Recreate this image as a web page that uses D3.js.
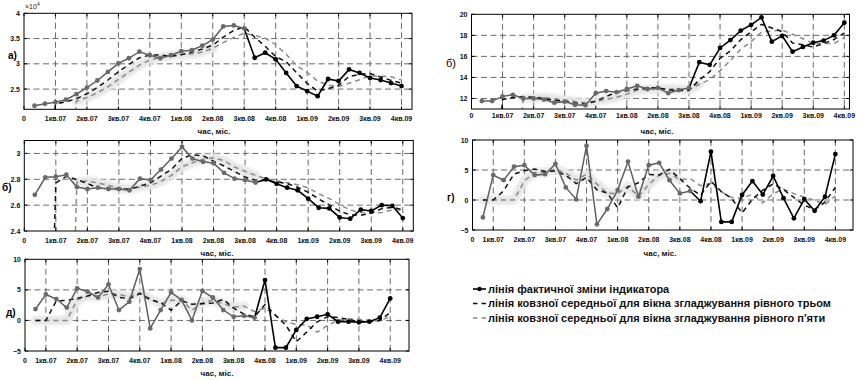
<!DOCTYPE html>
<html>
<head>
<meta charset="utf-8">
<script src="https://cdn.jsdelivr.net/npm/d3@7"></script>
<style>
  body { margin: 0; background: #fff; }
  svg { display: block; font-family: "Liberation Sans", Arial, sans-serif; }
</style>
</head>
<body>
<svg id="chart" width="857" height="380"></svg>
<script>
// Quarter tick labels shared by every panel
const quarterLabels = ['0', '1кв.07', '2кв.07', '3кв.07', '4кв.07', '1кв.08', '2кв.08',
  '3кв.08', '4кв.08', '1кв.09', '2кв.09', '3кв.09', '4кв.09'];
const ticksFromZero = [0, 3, 6, 9, 12, 15, 18, 21, 24, 27, 30, 33, 36];
const ticksFromOne = [1, 3, 6, 9, 12, 15, 18, 21, 24, 27, 30, 33, 36];

// а) level series, months 1..36
const aActual = [21700, 22100, 22400, 22900, 24000, 25300, 26700, 28400, 30100, 31100, 32400, 31700,
  31100, 31700, 32500, 32700, 33600, 34800, 37400, 37600, 37000, 31200, 32200, 30900,
  28200, 25600, 24600, 23600, 27000, 26600, 28900, 28200, 27200, 26800, 26200, 25600];
const aMa3 = [0, 0, 22070, 22470, 23100, 24070, 25330, 26800, 28400, 29870, 31200, 31730,
  31730, 31500, 31770, 32300, 32930, 33700, 35270, 36600, 37330, 35270, 33470, 31430,
  30430, 28230, 26130, 24600, 25070, 25730, 27500, 27900, 28100, 27400, 26730, 26200];
const aMa5 = [0, 0, 0, 0, 22620, 23340, 24260, 25460, 26900, 28320, 29740, 30740,
  31280, 31600, 31880, 31940, 32320, 33060, 34200, 35220, 36080, 35600, 35080, 33780,
  31900, 29620, 28300, 26580, 25800, 25480, 26140, 26860, 27580, 27540, 27460, 26800];

// б) upper-right series, months 1..36
const bActual = [11.75, 11.75, 12.2, 12.35, 12.0, 12.0, 11.9, 11.6, 11.7, 11.4, 11.35, 12.5,
  12.7, 12.6, 12.9, 13.2, 12.9, 13.0, 12.5, 12.8, 13.0, 15.45, 15.2, 16.8,
  17.55, 18.45, 19.0, 19.7, 17.4, 17.95, 16.45, 16.9, 17.3, 17.5, 18.0, 19.2];
const bMa3 = [0, 0, 11.9, 12.1, 12.18, 12.12, 11.97, 11.83, 11.73, 11.57, 11.48, 11.75,
  12.18, 12.6, 12.73, 12.9, 13.0, 13.03, 12.8, 12.77, 12.77, 13.75, 14.55, 15.82,
  16.52, 17.6, 18.33, 19.05, 18.7, 18.35, 17.27, 17.1, 16.88, 17.23, 17.6, 18.23];
const bMa5 = [0, 0, 0, 0, 12.01, 12.06, 12.09, 11.97, 11.84, 11.72, 11.59, 11.71,
  11.93, 12.11, 12.41, 12.78, 12.86, 12.92, 12.9, 12.88, 12.84, 13.35, 13.79, 14.65,
  15.6, 16.69, 17.4, 18.3, 18.42, 18.5, 18.1, 17.68, 17.2, 17.22, 17.23, 17.78];

// б) middle-left series, months 1..36
const cActual = [2.68, 2.815, 2.82, 2.835, 2.74, 2.725, 2.735, 2.725, 2.725, 2.715, 2.805, 2.795,
  2.875, 2.96, 3.05, 2.96, 2.935, 2.925, 2.85, 2.805, 2.795, 2.775, 2.80, 2.765,
  2.735, 2.715, 2.65, 2.58, 2.575, 2.505, 2.495, 2.565, 2.555, 2.60, 2.595, 2.50];
const cMa3 = [0, 0, 2.772, 2.823, 2.798, 2.767, 2.733, 2.728, 2.728, 2.722, 2.748, 2.772,
  2.825, 2.877, 2.962, 2.99, 2.982, 2.94, 2.903, 2.86, 2.817, 2.792, 2.79, 2.78,
  2.767, 2.738, 2.7, 2.648, 2.602, 2.553, 2.525, 2.522, 2.538, 2.573, 2.583, 2.565];
const cMa5 = [0, 0, 0, 0, 2.778, 2.787, 2.771, 2.752, 2.73, 2.725, 2.741, 2.753,
  2.783, 2.83, 2.897, 2.928, 2.956, 2.966, 2.944, 2.895, 2.862, 2.83, 2.805, 2.788,
  2.774, 2.758, 2.733, 2.689, 2.651, 2.605, 2.561, 2.544, 2.539, 2.544, 2.562, 2.563];

// г) change series, months 2..36
const gActual = [-2.9, 4.15, 3.3, 5.55, 5.8, 4.15, 4.3, 6.0, 2.1, 0.1, 9.05, -4.05,
  -1.5, 1.65, 6.4, 0.55, 5.8, 6.2, 3.3, 1.1, 1.5, -0.2, 8.05, -3.65,
  -3.65, 0.85, 3.15, 0.9, 4.0, 0.3, -3.05, 0.15, -1.8, 0.55, 7.65];
const gMa3 = [0, 0, 1.517, 4.333, 4.883, 5.167, 4.75, 4.817, 4.133, 2.733, 3.75, 1.7,
  1.167, -1.3, 2.183, 2.867, 4.25, 4.183, 5.1, 3.533, 1.967, 0.8, 3.117, 1.4,
  0.25, -2.15, 0.117, 1.633, 2.683, 1.733, 0.417, -0.867, -1.567, -0.367, 2.133];
const gMa5 = [0, 0, 0, 0, 3.18, 4.59, 4.62, 5.16, 4.47, 3.33, 4.31, 2.64,
  1.14, 1.05, 2.31, 0.61, 2.58, 4.12, 4.45, 3.39, 3.58, 2.38, 2.75, 1.36,
  0.41, 0.28, 0.95, -0.48, 1.05, 1.84, 1.06, 0.46, -0.08, -0.77, 0.7];

// д) change series, months 2..36
const dActual = [1.85, 4.25, 3.5, 2.1, 5.25, 4.7, 3.75, 5.9, 1.7, 3.05, 8.4, -1.3,
  1.7, 4.6, 3.35, 0.0, 4.85, 3.75, 1.7, 0.6, 0.75, 0.45, 6.6, -4.45,
  -4.45, -1.55, 0.25, 0.6, 1.0, -0.2, -0.2, -0.3, -0.2, 0.45, 3.6];
const dMa3 = [0, 0, 3.2, 3.283, 3.617, 4.017, 4.567, 4.783, 3.783, 3.55, 4.383, 3.383,
  2.933, 1.667, 3.217, 2.65, 2.733, 2.867, 3.433, 2.017, 1.017, 0.6, 2.6, 0.867,
  -0.767, -3.483, -1.917, -0.233, 0.617, 0.467, 0.2, -0.233, -0.233, -0.017, 1.283];
const dMa5 = [0, 0, 0, 0, 3.39, 3.96, 3.86, 4.34, 4.26, 3.82, 4.56, 3.55,
  2.71, 3.29, 3.35, 1.67, 2.9, 3.31, 2.73, 2.18, 2.33, 1.45, 2.02, 0.79,
  -0.22, -0.68, -0.72, -1.92, -0.83, 0.02, 0.29, 0.18, 0.02, -0.09, 0.67];

const legendLabels = [
  'лінія фактичної зміни індикатора',
  'лінія ковзної середньої для вікна згладжування рівного трьом',
  'лінія ковзної середньої для вікна згладжування рівного п\'яти'
];

const fmtTen4 = d => d3.format('~g')(d / 1e4);
const fmtPlain = d => d3.format('~g')(d);

const panels = [
  { key: 'a', box: [24, 13.3, 412, 109.3], xDomain: [0, 37], yDomain: [21000, 40000],
    yTicks: [25000, 30000, 35000, 40000], yFormat: fmtTen4, xTicks: ticksFromZero, first: 1,
    actual: aActual, ma3: aMa3, ma5: aMa5, grayUntil: 21, haloFrom: 5, haloUntil: 18,
    letter: 'а)', letterPos: [8, 59], letterStyle: ['10px', 'bold'],
    tickBase: 121, titlePos: [214, 134], exponent: true },
  { key: 'b', box: [471.5, 14.3, 849.5, 109], xDomain: [0, 36.5], yDomain: [11, 20],
    yTicks: [12, 14, 16, 18, 20], yFormat: fmtPlain, xTicks: ticksFromZero, first: 1,
    actual: bActual, ma3: bMa3, ma5: bMa5, grayUntil: 21, haloFrom: 5, haloUntil: 22,
    letter: 'б)', letterPos: [446, 67], letterStyle: ['11px', 'normal'],
    tickBase: 117.5, titlePos: [657, 134] },
  { key: 'c', box: [24.3, 140.5, 413.3, 231], xDomain: [0, 37], yDomain: [2.4, 3.1],
    yTicks: [2.4, 2.6, 2.8, 3.0], yFormat: fmtPlain, xTicks: ticksFromZero, first: 1,
    actual: cActual, ma3: cMa3, ma5: cMa5, grayUntil: 22, haloFrom: 5, haloUntil: 22,
    letter: 'б)', letterPos: [2, 190.5], letterStyle: ['10px', 'bold'],
    tickBase: 242.5, titlePos: [217, 255.5] },
  { key: 'g', box: [472.5, 140, 853, 230], xDomain: [1, 37.7], yDomain: [-5, 10],
    yTicks: [-5, 0, 5, 10], yFormat: fmtPlain, xTicks: ticksFromOne, first: 2,
    actual: gActual, ma3: gMa3, ma5: gMa5, grayUntil: 22, haloFrom: 2, haloUntil: 21,
    letter: 'г)', letterPos: [447, 200.5], letterStyle: ['10px', 'bold'],
    tickBase: 241.5, titlePos: [660, 255.5] },
  { key: 'd', box: [25, 259.3, 409, 351], xDomain: [1, 37.8], yDomain: [-5, 10],
    yTicks: [-5, 0, 5, 10], yFormat: fmtPlain, xTicks: ticksFromOne, first: 2,
    actual: dActual, ma3: dMa3, ma5: dMa5, grayUntil: 23, haloFrom: 2, haloUntil: 22,
    letter: 'д)', letterPos: [6, 315.5], letterStyle: ['10px', 'bold'],
    tickBase: 362.5, titlePos: [217, 376] }
];

const svg = d3.select('#chart');
const defs = svg.append('defs');
defs.append('filter').attr('id', 'soft')
  .attr('x', '-10%').attr('y', '-30%').attr('width', '120%').attr('height', '160%')
  .append('feGaussianBlur').attr('stdDeviation', 1.6);

panels.forEach(p => {
  const [x0, y0, x1, y1] = p.box;
  const x = d3.scaleLinear().domain(p.xDomain).range([x0, x1]);
  const y = d3.scaleLinear().domain(p.yDomain).range([y1, y0]);
  const g = svg.append('g');

  defs.append('clipPath').attr('id', 'clip-' + p.key)
    .append('rect').attr('x', x0).attr('y', y0).attr('width', x1 - x0).attr('height', y1 - y0);

  // dashed grid
  const grid = g.append('g').attr('stroke', '#5a5a5a').attr('stroke-width', 0.9)
    .attr('stroke-dasharray', '6,3.5');
  grid.selectAll('.vx').data(p.xTicks.filter(t => t > p.xDomain[0])).join('line')
    .attr('x1', d => x(d)).attr('x2', d => x(d)).attr('y1', y0).attr('y2', y1);
  grid.selectAll('.hy').data(p.yTicks.filter(t => t > p.yDomain[0] && t < p.yDomain[1])).join('line')
    .attr('y1', d => y(d)).attr('y2', d => y(d)).attr('x1', x0).attr('x2', x1);

  const plot = g.append('g').attr('clip-path', `url(#clip-${p.key})`);
  const pts = arr => arr.map((v, i) => ({ m: p.first + i, v }));
  const line = d3.line().x(d => x(d.m)).y(d => y(d.v));

  const actual = pts(p.actual);
  const ma3 = pts(p.ma3);
  const ma5 = pts(p.ma5);

  // soft highlight band along the early part of the five-point average
  plot.append('path').datum(ma5.filter(d => d.m >= p.haloFrom && d.m <= p.haloUntil))
    .attr('d', line).attr('fill', 'none').attr('stroke', '#e6e6e6')
    .attr('stroke-width', 9).attr('stroke-linecap', 'round').attr('stroke-linejoin', 'round')
    .attr('filter', 'url(#soft)');

  plot.append('path').datum(ma5).attr('d', line).attr('fill', 'none')
    .attr('stroke', '#8a8a8a').attr('stroke-width', 1.5).attr('stroke-dasharray', '5,4');
  plot.append('path').datum(ma3).attr('d', line).attr('fill', 'none')
    .attr('stroke', '#111').attr('stroke-width', 1.5).attr('stroke-dasharray', '5,4');

  plot.append('path').datum(actual.filter(d => d.m <= p.grayUntil)).attr('d', line)
    .attr('fill', 'none').attr('stroke', '#5e5e5e').attr('stroke-width', 1.5);
  plot.append('path').datum(actual.filter(d => d.m >= p.grayUntil)).attr('d', line)
    .attr('fill', 'none').attr('stroke', '#000').attr('stroke-width', 1.6);
  plot.selectAll('circle').data(actual).join('circle')
    .attr('cx', d => x(d.m)).attr('cy', d => y(d.v)).attr('r', 2.4)
    .attr('fill', d => d.m <= p.grayUntil ? '#6a6a6a' : '#000');

  // axes box and inward ticks
  g.append('rect').attr('x', x0).attr('y', y0).attr('width', x1 - x0).attr('height', y1 - y0)
    .attr('fill', 'none').attr('stroke', '#000').attr('stroke-width', 1);
  const ticks = g.append('g').attr('stroke', '#000').attr('stroke-width', 1);
  p.xTicks.forEach(t => {
    ticks.append('line').attr('x1', x(t)).attr('x2', x(t)).attr('y1', y1).attr('y2', y1 - 3);
    ticks.append('line').attr('x1', x(t)).attr('x2', x(t)).attr('y1', y0).attr('y2', y0 + 3);
  });
  p.yTicks.forEach(t => {
    ticks.append('line').attr('x1', x0).attr('x2', x0 + 3).attr('y1', y(t)).attr('y2', y(t));
    ticks.append('line').attr('x1', x1).attr('x2', x1 - 3).attr('y1', y(t)).attr('y2', y(t));
  });

  // tick labels
  g.selectAll('.xt').data(p.xTicks).join('text')
    .attr('x', d => x(d)).attr('y', p.tickBase).attr('text-anchor', 'middle')
    .attr('font-size', '7px').attr('font-weight', 'bold').attr('fill', '#111')
    .text((d, i) => quarterLabels[i]);
  g.selectAll('.yt').data(p.yTicks).join('text')
    .attr('x', x0 - 4).attr('y', d => y(d) + 2.5).attr('text-anchor', 'end')
    .attr('font-size', '7px').attr('font-weight', 'bold').attr('fill', '#111')
    .text(p.yFormat);

  g.append('text').attr('x', p.titlePos[0]).attr('y', p.titlePos[1]).attr('text-anchor', 'middle')
    .attr('font-size', '8px').attr('font-weight', 'bold').attr('fill', '#111').text('час, міс.');

  g.append('text').attr('x', p.letterPos[0]).attr('y', p.letterPos[1])
    .attr('font-size', p.letterStyle[0]).attr('font-weight', p.letterStyle[1]).attr('fill', '#000')
    .text(p.letter);

  if (p.exponent) {
    const e = g.append('text').attr('x', x0 + 1).attr('y', y0 - 4).attr('font-size', '7px').attr('fill', '#222');
    e.append('tspan').text('×10');
    e.append('tspan').attr('dy', -3).attr('font-size', '5px').text('4');
  }
});

// legend
const legend = svg.append('g');
const rowsY = [289, 303.5, 318];
legendLabels.forEach((label, i) => {
  const yy = rowsY[i];
  if (i === 0) {
    legend.append('line').attr('x1', 473).attr('x2', 486).attr('y1', yy).attr('y2', yy)
      .attr('stroke', '#000').attr('stroke-width', 1.6);
    legend.append('circle').attr('cx', 479.5).attr('cy', yy).attr('r', 2.2).attr('fill', '#000');
  } else {
    legend.append('line').attr('x1', 473).attr('x2', 486).attr('y1', yy).attr('y2', yy)
      .attr('stroke', i === 1 ? '#111' : '#8a8a8a').attr('stroke-width', 1.6)
      .attr('stroke-dasharray', '4.5,4');
  }
  legend.append('text').attr('x', 488).attr('y', yy + 3.8).attr('font-size', '11px')
    .attr('font-weight', 'bold').attr('fill', '#111').text(label);
});
</script>
</body>
</html>
